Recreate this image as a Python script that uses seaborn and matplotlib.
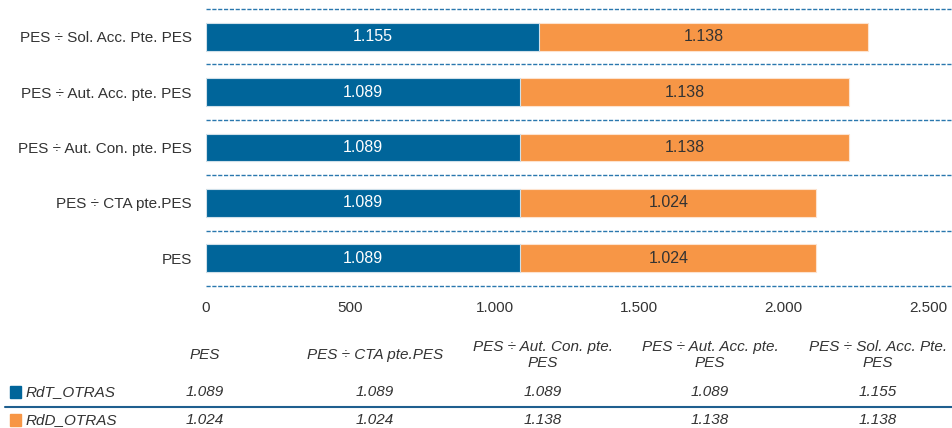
import matplotlib
matplotlib.use("Agg")
import matplotlib.pyplot as plt
import seaborn as sns
import pandas as pd

# data (values in units, shown with "." as thousands separator)
categories = ["PES", "PES ÷ CTA pte.PES", "PES ÷ Aut. Con. pte. PES",
              "PES ÷ Aut. Acc. pte. PES", "PES ÷ Sol. Acc. Pte. PES"]
table_headers = ["PES", "PES ÷ CTA pte.PES", "PES ÷ Aut. Con. pte.\nPES",
                 "PES ÷ Aut. Acc. pte.\nPES", "PES ÷ Sol. Acc. Pte.\nPES"]
rdt_otras = [1089, 1089, 1089, 1089, 1155]
rdd_otras = [1024, 1024, 1138, 1138, 1138]
series_names = ["RdT_OTRAS", "RdD_OTRAS"]
x_ticks = [0, 500, 1000, 1500, 2000, 2500]

BLUE = "#00659a"
ORANGE = "#f79646"
TXT = "#333333"


def fmt(v):
    return f"{v:,.0f}".replace(",", ".")


df = pd.DataFrame({"cat": categories, "rdt": rdt_otras, "rdd": rdd_otras})
df["total"] = df["rdt"] + df["rdd"]
order = categories[::-1]  # first category drawn at the bottom

sns.set_style("white")
plt.rcParams["font.family"] = ["Liberation Sans", "DejaVu Sans"]

fig = plt.figure(figsize=(9.53, 4.28), dpi=100)
ax = fig.add_axes([0.216, 0.332, 0.782, 0.647])

sns.barplot(data=df, x="total", y="cat", order=order, color=ORANGE,
            width=0.5, edgecolor="#fde3cf", linewidth=0.8, saturation=1, ax=ax)
sns.barplot(data=df, x="rdt", y="cat", order=order, color=BLUE,
            width=0.5, edgecolor="#cfe0ea", linewidth=0.8, saturation=1, ax=ax)

# segment labels
d = df.set_index("cat")
for i, c in enumerate(order):
    r, o = d.loc[c, "rdt"], d.loc[c, "rdd"]
    ax.text(r / 2, i, fmt(r), ha="center", va="center", color="white", fontsize=11.5)
    ax.text(r + o / 2, i, fmt(o), ha="center", va="center", color=TXT, fontsize=11.5)

ax.set_xlim(0, 2580)
ax.set_ylim(len(order) - 0.5, -0.5)
ax.set_xticks(x_ticks)
ax.set_xticklabels([fmt(t) for t in x_ticks], color=TXT, fontsize=11)
ax.tick_params(axis="x", length=0, pad=11)
ax.tick_params(axis="y", length=0, pad=10, labelsize=11, labelcolor=TXT)
ax.set_xlabel("")
ax.set_ylabel("")
for s in ax.spines.values():
    s.set_visible(False)
for k in range(len(order) + 1):
    ax.axhline(k - 0.5, color="#2a78ae", lw=1, ls=(0, (3, 1.2)), zorder=0,
               clip_on=False)

# data table below the chart
col_x = [205, 375, 543, 710, 878]
W, H = 953, 428
for x, h in zip(col_x, table_headers):
    fig.text(x / W, 1 - 355 / H, h, ha="center", va="center", fontsize=11,
             style="italic", color=TXT, linespacing=1.25)
rows_y = [392, 420]
for y, name, vals, col in zip(rows_y, series_names, [rdt_otras, rdd_otras], [BLUE, ORANGE]):
    fig.patches.append(plt.Rectangle((10 / W, 1 - (y + 6) / H), 11 / W, 12 / H,
                                     transform=fig.transFigure, color=col))
    fig.text(26 / W, 1 - y / H, name, ha="left", va="center", fontsize=11,
             style="italic", color=TXT)
    for x, v in zip(col_x, vals):
        fig.text(x / W, 1 - y / H, fmt(v), ha="center", va="center", fontsize=11,
                 style="italic", color=TXT)
fig.add_artist(plt.Line2D([5 / W, 1], [1 - 407 / H] * 2, color="#1f5f8f", lw=1.5,
                          transform=fig.transFigure))

fig.savefig("out.png", dpi=100)
